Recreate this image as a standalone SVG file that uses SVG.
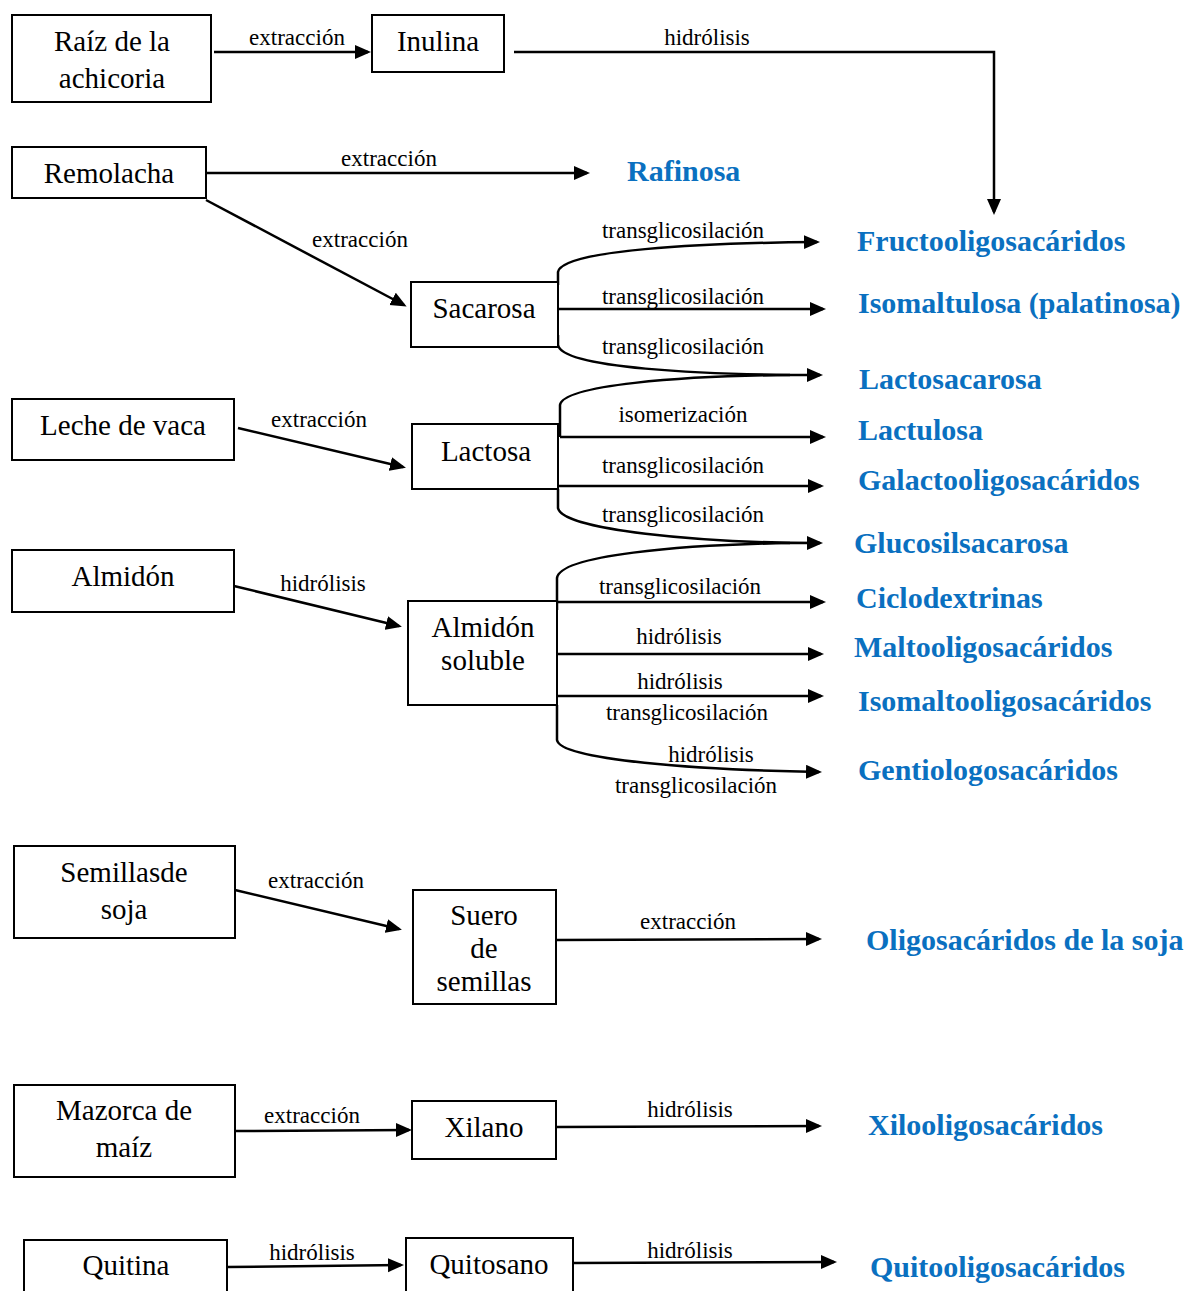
<svg xmlns="http://www.w3.org/2000/svg" width="1186" height="1291" viewBox="0 0 1186 1291">
<defs>
<style>
.box{fill:#fff;stroke:#000;stroke-width:2}
.nt{font-family:"Liberation Serif",serif;font-size:29px;fill:#000;text-anchor:middle}
.lb{font-family:"Liberation Serif",serif;font-size:23px;fill:#000;text-anchor:middle}
.pr{font-family:"Liberation Serif",serif;font-size:30px;font-weight:bold;fill:#0A70C0}
.c{fill:none;stroke:#000;stroke-width:2.5}
</style>
<marker id="ah" markerUnits="userSpaceOnUse" markerWidth="17" markerHeight="15" refX="13" refY="7" orient="auto">
<path d="M0,0 L16,7 L0,14 z" fill="#000"/>
</marker>
</defs>
<rect width="1186" height="1291" fill="#fff"/>

<g id="connectors">
<path class="c" d="M214,52 L368,52" marker-end="url(#ah)"/>
<path class="c" d="M514,52 L994,52 L994,212" marker-end="url(#ah)"/>
<path class="c" d="M206,173 L587,173" marker-end="url(#ah)"/>
<path class="c" d="M206,200 L404,305" marker-end="url(#ah)"/>
<path class="c" d="M558,285 L558,272 C562,250 700,243 817,242" marker-end="url(#ah)"/>
<path class="c" d="M558,309 L823,309" marker-end="url(#ah)"/>
<path class="c" d="M558,335 L558,345 C562,368 700,375 820,375" marker-end="url(#ah)"/>
<path class="c" d="M238,428 L403,467" marker-end="url(#ah)"/>
<path class="c" d="M560,437 L560,405 C563,385 680,376 790,375"/>
<path class="c" d="M560,437 L823,437" marker-end="url(#ah)"/>
<path class="c" d="M558,486 L821,486" marker-end="url(#ah)"/>
<path class="c" d="M558,489 L558,508 C562,530 700,543 820,543" marker-end="url(#ah)"/>
<path class="c" d="M234,586 L399,626" marker-end="url(#ah)"/>
<path class="c" d="M557,610 L557,578 C560,555 680,545 790,543"/>
<path class="c" d="M557,602 L823,602" marker-end="url(#ah)"/>
<path class="c" d="M557,654 L821,654" marker-end="url(#ah)"/>
<path class="c" d="M557,696 L821,696" marker-end="url(#ah)"/>
<path class="c" d="M557,705 L557,740 C560,760 700,770 819,772" marker-end="url(#ah)"/>
<path class="c" d="M235,890 L399,929" marker-end="url(#ah)"/>
<path class="c" d="M557,940 L819,939" marker-end="url(#ah)"/>
<path class="c" d="M235,1131 L409,1130" marker-end="url(#ah)"/>
<path class="c" d="M557,1127 L819,1126" marker-end="url(#ah)"/>
<path class="c" d="M227,1267 L401,1265" marker-end="url(#ah)"/>
<path class="c" d="M573,1263 L834,1262" marker-end="url(#ah)"/>

<text class="lb" x="297" y="45">extracción</text>
<text class="lb" x="707" y="45">hidrólisis</text>
<text class="lb" x="389" y="166">extracción</text>
<text class="lb" x="360" y="247">extracción</text>
<text class="lb" x="683" y="238">transglicosilación</text>
<text class="lb" x="683" y="304">transglicosilación</text>
<text class="lb" x="683" y="354">transglicosilación</text>
<text class="lb" x="319" y="427">extracción</text>
<text class="lb" x="683" y="422">isomerización</text>
<text class="lb" x="683" y="473">transglicosilación</text>
<text class="lb" x="683" y="522">transglicosilación</text>
<text class="lb" x="323" y="591">hidrólisis</text>
<text class="lb" x="680" y="594">transglicosilación</text>
<text class="lb" x="679" y="644">hidrólisis</text>
<text class="lb" x="680" y="689">hidrólisis</text>
<text class="lb" x="687" y="720">transglicosilación</text>
<text class="lb" x="711" y="762">hidrólisis</text>
<text class="lb" x="696" y="793">transglicosilación</text>
<text class="lb" x="316" y="888">extracción</text>
<text class="lb" x="688" y="929">extracción</text>
<text class="lb" x="312" y="1123">extracción</text>
<text class="lb" x="690" y="1117">hidrólisis</text>
<text class="lb" x="312" y="1260">hidrólisis</text>
<text class="lb" x="690" y="1258">hidrólisis</text>
</g>

<g id="n-raiz"><rect class="box" x="12" y="15" width="199" height="87"/><text class="nt" x="112" y="51">Raíz de la</text><text class="nt" x="112" y="88">achicoria</text></g>
<g id="n-inulina"><rect class="box" x="372" y="15" width="132" height="57"/><text class="nt" x="438" y="51">Inulina</text></g>
<g id="n-remolacha"><rect class="box" x="12" y="147" width="194" height="51"/><text class="nt" x="109" y="183">Remolacha</text></g>
<g id="n-sacarosa"><rect class="box" x="411" y="282" width="147" height="65"/><text class="nt" x="484" y="318">Sacarosa</text></g>
<g id="n-leche"><rect class="box" x="12" y="399" width="222" height="61"/><text class="nt" x="123" y="435">Leche de vaca</text></g>
<g id="n-lactosa"><rect class="box" x="412" y="424" width="146" height="65"/><text class="nt" x="486" y="461">Lactosa</text></g>
<g id="n-almidon"><rect class="box" x="12" y="550" width="222" height="62"/><text class="nt" x="123" y="586">Almidón</text></g>
<g id="n-almidon-soluble"><rect class="box" x="408" y="601" width="149" height="104"/><text class="nt" x="483" y="637">Almidón</text><text class="nt" x="483" y="670">soluble</text></g>
<g id="n-semillas"><rect class="box" x="14" y="846" width="221" height="92"/><text class="nt" x="124" y="882">Semillasde</text><text class="nt" x="124" y="919">soja</text></g>
<g id="n-suero"><rect class="box" x="413" y="890" width="143" height="114"/><text class="nt" x="484" y="925">Suero</text><text class="nt" x="484" y="958">de</text><text class="nt" x="484" y="991">semillas</text></g>
<g id="n-mazorca"><rect class="box" x="14" y="1085" width="221" height="92"/><text class="nt" x="124" y="1120">Mazorca de</text><text class="nt" x="124" y="1157">maíz</text></g>
<g id="n-xilano"><rect class="box" x="412" y="1101" width="144" height="58"/><text class="nt" x="484" y="1137">Xilano</text></g>
<g id="n-quitina"><rect class="box" x="24" y="1240" width="203" height="60"/><text class="nt" x="126" y="1275">Quitina</text></g>
<g id="n-quitosano"><rect class="box" x="406" y="1238" width="167" height="62"/><text class="nt" x="489" y="1274">Quitosano</text></g>

<g id="n-rafinosa"><text class="pr" x="627" y="181">Rafinosa</text></g>
<g id="n-fos"><text class="pr" x="857" y="251">Fructooligosacáridos</text></g>
<g id="n-isomaltulosa"><text class="pr" x="858" y="313">Isomaltulosa (palatinosa)</text></g>
<g id="n-lactosacarosa"><text class="pr" x="859" y="389">Lactosacarosa</text></g>
<g id="n-lactulosa"><text class="pr" x="858" y="440">Lactulosa</text></g>
<g id="n-gos"><text class="pr" x="858" y="490">Galactooligosacáridos</text></g>
<g id="n-glucosilsacarosa"><text class="pr" x="854" y="553">Glucosilsacarosa</text></g>
<g id="n-ciclodextrinas"><text class="pr" x="856" y="608">Ciclodextrinas</text></g>
<g id="n-mos"><text class="pr" x="854" y="657">Maltooligosacáridos</text></g>
<g id="n-imos"><text class="pr" x="858" y="711">Isomaltooligosacáridos</text></g>
<g id="n-gentio"><text class="pr" x="858" y="780">Gentiologosacáridos</text></g>
<g id="n-soja"><text class="pr" x="866" y="950">Oligosacáridos de la soja</text></g>
<g id="n-xos"><text class="pr" x="868" y="1135">Xilooligosacáridos</text></g>
<g id="n-qos"><text class="pr" x="870" y="1277">Quitooligosacáridos</text></g>
</svg>
